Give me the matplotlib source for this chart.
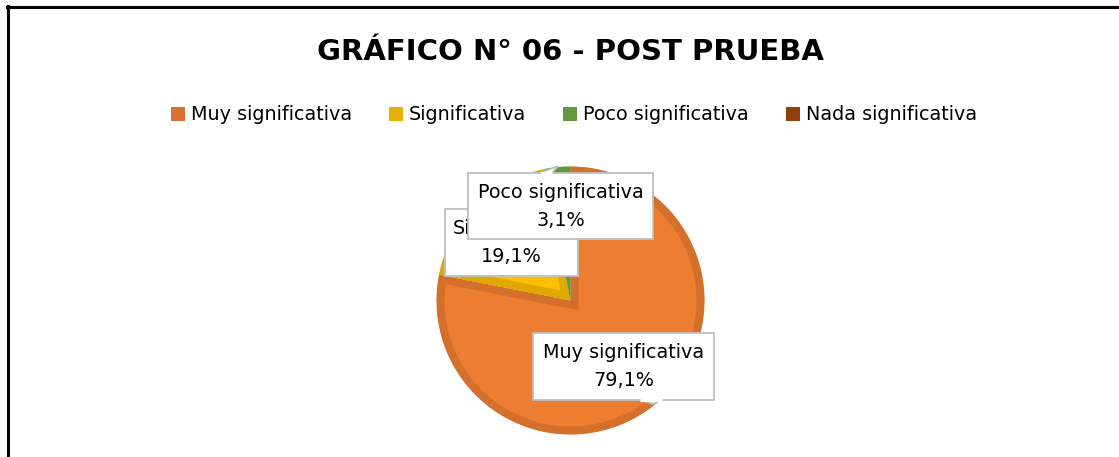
import matplotlib
matplotlib.use("Agg")
import matplotlib.pyplot as plt
from matplotlib.patches import Polygon, Patch
from matplotlib.lines import Line2D

# ---- data ----
categories = ["Muy significativa", "Significativa", "Poco significativa", "Nada significativa"]
values = [79.1, 19.1, 3.1, 0.0]
value_labels = ["79,1%", "19,1%", "3,1%", "0,0%"]
title = "GRÁFICO N° 06 - POST PRUEBA"

# ---- style ----
face_colors = ["#ED7D31", "#FFC000", "#70AD47", "#9E480E"]
edge_colors = ["#D4702C", "#E0A800", "#5E9A3C", "#8A3F0D"]
legend_colors = ["#DC7030", "#E9B000", "#629B3F", "#8E400E"]

W, H, DPI = 1119, 457, 100
fig = plt.figure(figsize=(W / DPI, H / DPI), dpi=DPI)
ax = fig.add_axes([0, 0, 1, 1])

FONT = "DejaVu Sans"
px = 72.0 / DPI  # points per pixel

cx, cy, r = 570.5, H - 300.5, 134
wedges, _ = ax.pie(values, startangle=90, counterclock=False, center=(cx, cy),
                   radius=r, colors=face_colors, frame=True)
ax.set_xlim(0, W)
ax.set_ylim(0, H)
ax.set_aspect("equal")
ax.axis("off")
bevel = 8
for w, ec, v in zip(wedges, edge_colors, values):
    w.set_edgecolor(ec)
    w.set_linewidth(2 * bevel * px if v > 0 else 0)
    w.set_clip_on(True)
    w.set_clip_path(w)
    w.set_zorder(2)

# title
fig.text(570 / W, 1 - 52 / H, title, ha="center", va="center",
         fontsize=21, fontweight="bold", family=FONT, color="#000000")

# legend
fs = 13.8
fpx = fs / px
handles = [Patch(facecolor=c, edgecolor="none") for c in legend_colors]
leg = fig.legend(handles, categories, loc="center", bbox_to_anchor=(574 / W, 1 - 115 / H),
                 ncol=4, frameon=False, prop={"family": FONT, "size": fs},
                 handlelength=14 / fpx, handleheight=14 / fpx,
                 handletextpad=6 / fpx, columnspacing=37 / fpx, borderpad=0)


def callout(x0, y0, x1, y1, tail, text, z):
    xs = [x0, x1, x1, x0]
    ys = [y0, y0, y1, y1]
    pts = [(x, H - y) for x, y in zip(xs, ys)]
    box = Polygon(pts, closed=True, facecolor="white", edgecolor="#BFBFBF",
                  linewidth=1.3, zorder=z)
    ax.add_patch(box)
    if tail:
        tp = [(x, H - y) for x, y in tail]
        t = Polygon(tp, closed=True, facecolor="white", edgecolor="#BFBFBF",
                    linewidth=1.3, zorder=z)
        ax.add_patch(t)
        ax.plot([tail[0][0], tail[2][0]], [H - tail[0][1], H - tail[2][1]],
                color="white", lw=2.2, zorder=z + 0.1, solid_capstyle="butt")
    ax.text((x0 + x1) / 2, H - (y0 + y1) / 2, text, ha="center", va="center",
            fontsize=fs, family=FONT, linespacing=1.6, zorder=z + 0.2)


callout(445, 209, 578, 276, None,
        categories[1] + "\n" + value_labels[1], 5)
callout(468, 173, 653, 239, [(540, 173), (558, 166), (552, 173)],
        categories[2] + "\n" + value_labels[2], 6)
callout(533, 333, 714, 400, [(640, 400), (653, 404), (662, 400)],
        categories[0] + "\n" + value_labels[0], 7)

# border lines
fig.add_artist(Line2D([7 / W, 1], [1 - 7 / H, 1 - 7 / H], color="black", lw=2.2))
fig.add_artist(Line2D([8 / W, 8 / W], [0, 1 - 6 / H], color="black", lw=2.2))

fig.savefig("out.png", dpi=DPI, facecolor="white")
